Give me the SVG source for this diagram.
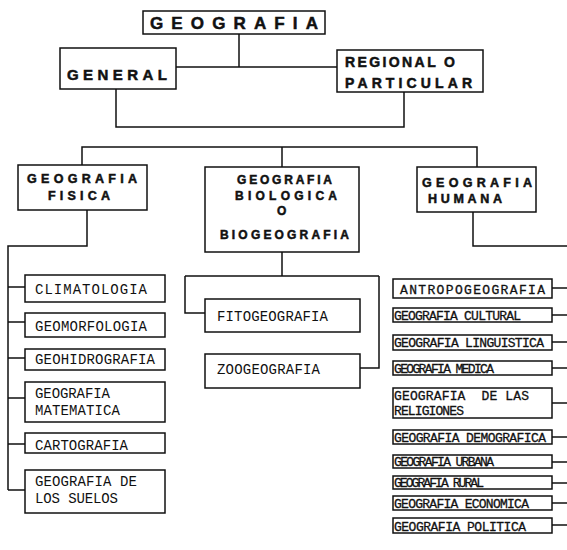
<svg xmlns="http://www.w3.org/2000/svg" width="567" height="550" viewBox="0 0 567 550">
<style>
.box{fill:#fff;stroke:#111;stroke-width:1.5}
.ln{fill:none;stroke:#111;stroke-width:1.5}
.h{font-family:"Liberation Sans",Arial,sans-serif;font-weight:bold;fill:#111;stroke:#111;stroke-width:0.5}
.m{font-family:"Liberation Mono","Courier New",monospace;font-size:14px;fill:#111}
.r{font-family:"Liberation Mono","Courier New",monospace;font-size:13px;fill:#111;stroke:#111;stroke-width:0.3}
</style>
<rect width="567" height="550" fill="#fff"/>
<g id="connectors">
<path class="ln" d="M239,34 V67 M176,67 H337"/>
<path class="ln" d="M116,89 V127 H404 V92"/>
<path class="ln" d="M82,165 V147 H477 V167 M282,147 V167"/>
<path class="ln" d="M87,210 V246 H8 V490"/>
<path class="ln" d="M8,287 H25 M8,322 H25 M8,358 H25 M8,398 H25 M8,444 H25 M8,490 H25"/>
<path class="ln" d="M282,252 V276 M185,276 H379 M185,276 V313 H205 M379,276 V368 H360"/>
<path class="ln" d="M473,212 V246 H567"/>
<path class="ln" d="M552,288 H567 M552,315 H567 M552,342 H567 M552,368 H567 M552,403 H567 M552,437 H567 M552,462 H567 M552,483 H567 M552,503 H567 M552,525 H567"/>
</g>
<g id="geografia"><rect class="box" x="143" y="11" width="182" height="23"/><text class="h" x="150" y="29" font-size="17" textLength="168" lengthAdjust="spacing">GEOGRAFIA</text></g>
<g id="general"><rect class="box" x="60" y="48" width="116" height="41"/><text class="h" x="67" y="80" font-size="15" textLength="100" lengthAdjust="spacing">GENERAL</text></g>
<g id="regional"><rect class="box" x="337" y="50" width="146" height="42"/><text class="h" x="345" y="67" font-size="14" textLength="110" lengthAdjust="spacing">REGIONAL O</text><text class="h" x="345" y="88" font-size="14" textLength="127" lengthAdjust="spacing">PARTICULAR</text></g>
<g id="fisica"><rect class="box" x="18" y="165" width="129" height="45"/><text class="h" x="27" y="183" font-size="12.5" textLength="110" lengthAdjust="spacing">GEOGRAFIA</text><text class="h" x="48" y="200" font-size="12.5" textLength="62" lengthAdjust="spacing">FISICA</text></g>
<g id="biologica"><rect class="box" x="205" y="167" width="154" height="85"/><text class="h" x="237" y="184" font-size="12" textLength="95" lengthAdjust="spacing">GEOGRAFIA</text><text class="h" x="235" y="200" font-size="12" textLength="102" lengthAdjust="spacing">BIOLOGICA</text><text class="h" x="277" y="215" font-size="12">O</text><text class="h" x="220" y="239" font-size="12" textLength="129" lengthAdjust="spacing">BIOGEOGRAFIA</text></g>
<g id="humana"><rect class="box" x="417" y="167" width="119" height="45"/><text class="h" x="422" y="187" font-size="12.5" textLength="110" lengthAdjust="spacing">GEOGRAFIA</text><text class="h" x="428" y="203" font-size="12.5" textLength="74" lengthAdjust="spacing">HUMANA</text></g>
<g id="climatologia"><rect class="box" x="25" y="275" width="140" height="27"/><text class="m" x="35" y="294" textLength="112">CLIMATOLOGIA</text></g>
<g id="geomorfologia"><rect class="box" x="25" y="313" width="140" height="24"/><text class="m" x="35" y="331" textLength="112">GEOMORFOLOGIA</text></g>
<g id="geohidrografia"><rect class="box" x="25" y="349" width="140" height="21"/><text class="m" x="35" y="364" textLength="120">GEOHIDROGRAFIA</text></g>
<g id="matematica"><rect class="box" x="25" y="382" width="140" height="40"/><text class="m" x="35" y="398" textLength="75">GEOGRAFIA</text><text class="m" x="35" y="415" textLength="85">MATEMATICA</text></g>
<g id="cartografia"><rect class="box" x="25" y="433" width="140" height="20"/><text class="m" x="35" y="450" textLength="93">CARTOGRAFIA</text></g>
<g id="suelos"><rect class="box" x="25" y="470" width="140" height="43"/><text class="m" x="35" y="486" textLength="102">GEOGRAFIA DE</text><text class="m" x="35" y="503" textLength="83">LOS SUELOS</text></g>
<g id="fitogeografia"><rect class="box" x="205" y="299" width="155" height="33"/><text class="m" x="217" y="321" textLength="111">FITOGEOGRAFIA</text></g>
<g id="zoogeografia"><rect class="box" x="205" y="354" width="155" height="34"/><text class="m" x="217" y="374" textLength="103">ZOOGEOGRAFIA</text></g>
<g id="antropogeografia"><rect class="box" x="393" y="279" width="159" height="19"/><text class="r" x="400" y="294" textLength="145">ANTROPOGEOGRAFIA</text></g>
<g id="cultural"><rect class="box" x="393" y="308" width="159" height="14"/><text class="r" x="394" y="320" textLength="127">GEOGRAFIA CULTURAL</text></g>
<g id="linguistica"><rect class="box" x="393" y="335" width="159" height="15"/><text class="r" x="394" y="347" textLength="150">GEOGRAFIA LINGUISTICA</text></g>
<g id="medica"><rect class="box" x="393" y="361" width="159" height="14"/><text class="r" x="394" y="373" textLength="100">GEOGRAFIA MEDICA</text></g>
<g id="religiones"><rect class="box" x="393" y="388" width="159" height="30"/><text class="r" x="394" y="400" textLength="135" xml:space="preserve">GEOGRAFIA  DE LAS</text><text class="r" x="394" y="415" textLength="70">RELIGIONES</text></g>
<g id="demografica"><rect class="box" x="393" y="430" width="159" height="14"/><text class="r" x="394" y="442" textLength="152">GEOGRAFIA DEMOGRAFICA</text></g>
<g id="urbana"><rect class="box" x="393" y="455" width="159" height="13"/><text class="r" x="394" y="466" textLength="100">GEOGRAFIA URBANA</text></g>
<g id="rural"><rect class="box" x="393" y="476" width="159" height="13"/><text class="r" x="394" y="487" textLength="90">GEOGRAFIA RURAL</text></g>
<g id="economica"><rect class="box" x="393" y="496" width="159" height="14"/><text class="r" x="394" y="508" textLength="135">GEOGRAFIA ECONOMICA</text></g>
<g id="politica"><rect class="box" x="393" y="518" width="159" height="15"/><text class="r" x="394" y="531" textLength="132">GEOGRAFIA POLITICA</text></g>
</svg>
